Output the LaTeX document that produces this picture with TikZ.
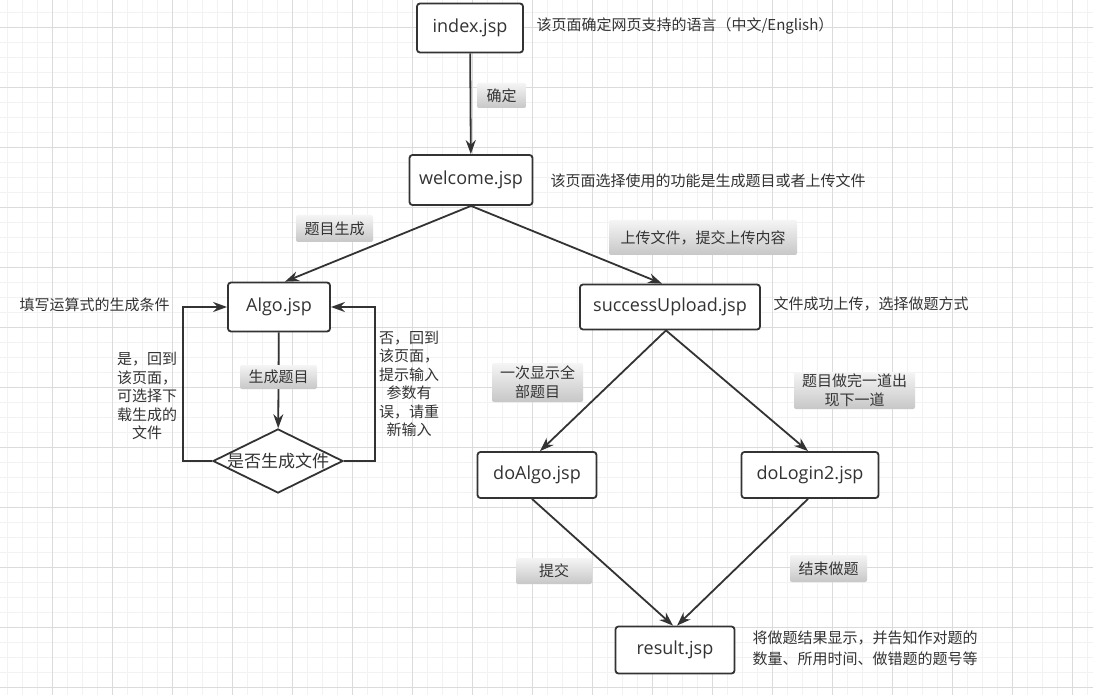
\documentclass[tikz,border=0pt]{standalone}
\usepackage{fontspec}
\setmainfont{Open Sans}
\newfontfamily\cjk{Noto Sans CJK SC}
\usetikzlibrary{arrows.meta,shapes.geometric}

\tikzset{
  jsp/.style={draw=black!80, line width=1.8pt, rounded corners=3pt, fill=white, text=black!80, font=\fontsize{18}{20}\selectfont},
  flow/.style={draw=black!80, line width=1.8pt, -{Stealth[length=14pt,width=10pt]}},
  tag/.style={top color=black!4, bottom color=black!22, rounded corners=2pt, inner xsep=8pt, inner ysep=4pt, text=black!80, align=center, font=\cjk\fontsize{15}{19}\selectfont},
  note/.style={anchor=west, text=black!80, align=left, font=\cjk\fontsize{15}{21}\selectfont},
  side/.style={text=black!80, align=center, font=\cjk\fontsize{15}{18.5}\selectfont},
  minorgrid/.style={draw=black!5, line width=0.8pt},
  majorgrid/.style={draw=black!14, line width=0.8pt}
}

\begin{document}
\begin{tikzpicture}[x=1pt, y=-1pt]
\useasboundingbox (0,0) rectangle (1093,695);
\fill[white] (0,0) rectangle (1093,695);

% grid paper
\foreach \x in {7,22,...,1093} \draw[minorgrid] (\x,0) -- (\x,695);
\foreach \y in {12,27,...,695} \draw[minorgrid] (0,\y) -- (1093,\y);
\foreach \x in {52,112,...,1093} \draw[majorgrid] (\x,0) -- (\x,695);
\foreach \y in {27,87,...,695} \draw[majorgrid] (0,\y) -- (1093,\y);

% pages
\node[jsp, minimum width=106, minimum height=49] (index) at (470,28) {index.jsp};
\node[jsp, minimum width=123, minimum height=50] (welcome) at (471,180) {welcome.jsp};
\node[jsp, minimum width=102, minimum height=49] (algo) at (279,307) {Algo.jsp};
\node[jsp, minimum width=180, minimum height=45] (upload) at (670,307) {successUpload.jsp};
\node[jsp, minimum width=119, minimum height=46] (doalgo) at (537,475) {doAlgo.jsp};
\node[jsp, minimum width=137, minimum height=46] (dologin) at (810,475) {doLogin2.jsp};
\node[jsp, minimum width=119, minimum height=47] (result) at (675,650) {result.jsp};
\node[jsp, diamond, rounded corners=0pt, fill=white, minimum width=130, minimum height=64, inner sep=0pt, font=\cjk\fontsize{17}{20}\selectfont] (ask) at (278,461) {\makebox[0pt]{是否生成文件}};

% arrows
\draw[flow] (index) -- (welcome);
\draw[flow] (welcome.south) -- ([xshift=6]algo.north);
\draw[flow] (welcome.south) -- ([xshift=-8]upload.north);
\draw[flow] (algo) -- (ask);
\draw[flow] (ask.west) -- ++(-29,0) |- (algo.west);
\draw[flow] (ask.east) -- ++(31,0) |- (algo.east);
\draw[flow] ([xshift=-4]upload.south) -- ([xshift=3]doalgo.north);
\draw[flow] ([xshift=-4]upload.south) -- ([xshift=-2]dologin.north);
\draw[flow] ([xshift=-5]doalgo.south) -- ([xshift=-2]result.north);
\draw[flow] ([xshift=-2]dologin.south) -- ([xshift=2]result.north);

% labels on arrows
\node[tag, minimum width=49, minimum height=25] (t1) at (501.5,95.5) {确定};
\node[tag, minimum width=77, minimum height=27] (t2) at (334.5,228.5) {题目生成};
\node[tag, minimum width=188, minimum height=35] (t3) at (703,237.5) {上传文件，提交上传内容};
\node[tag, minimum width=77, minimum height=24] (t4) at (278.5,377) {生成题目};
\node[tag, minimum width=91, minimum height=39, inner ysep=2pt] (t5) at (537.5,382.5) {一次显示全\\部题目};
\node[tag, minimum width=121, minimum height=37, inner ysep=2pt] (t6) at (854.5,390.5) {题目做完一道出\\现下一道};
\node[tag, minimum width=76, minimum height=26] (t7) at (554,571) {提交};
\node[tag, minimum width=77, minimum height=27] (t8) at (828.5,568.5) {结束做题};

\node[side] (yes) at (147,396) {是，回到\\该页面，\\可选择下\\载生成的\\文件};
\node[side] (no) at (409,384) {否，回到\\该页面，\\提示输入\\参数有\\误，请重\\新输入};

% notes beside the pages
\node[note] (n1) at (533,26) {该页面确定网页支持的语言（中文/English）};
\node[note] (n2) at (547,181) {该页面选择使用的功能是生成题目或者上传文件};
\node[note] (n3) at (16,305) {填写运算式的生成条件};
\node[note] (n4) at (770,304) {文件成功上传，选择做题方式};
\node[note] (n5) at (749,648) {将做题结果显示，并告知作对题的\\数量、所用时间、做错题的题号等};
\end{tikzpicture}
\end{document}
